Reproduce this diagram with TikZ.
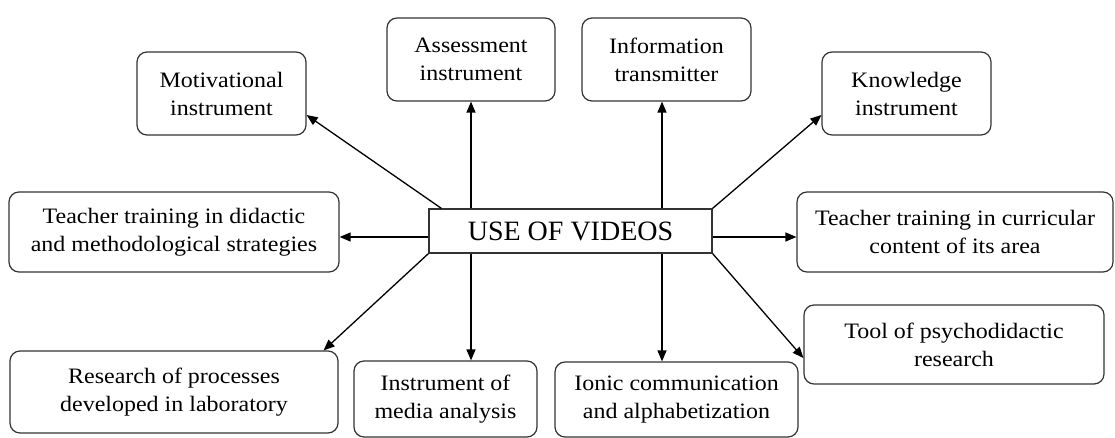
\documentclass[tikz,border=0pt]{standalone}
\usepackage{fontspec}
\setmainfont{Liberation Serif}
\newfontfamily\boxfont[FakeStretch=1.09]{Liberation Serif}
\usetikzlibrary{arrows.meta}
\begin{document}
\begin{tikzpicture}[x=1pt,y=-1pt,
  box/.style={draw=black!80,line width=1.2pt,rounded corners=10pt,align=center,inner sep=0pt,
    font=\boxfont\fontsize{22}{28}\selectfont},
  hub/.style={draw=black!80,line width=1.2pt,inner sep=0pt,font=\fontsize{28}{32}\selectfont},
  arr/.style={line width=1.3pt,-{Triangle[length=11pt,width=9pt]}}]
\useasboundingbox (0,0) rectangle (1115,438);
\node[hub,minimum width=283pt,minimum height=44pt] (c) at (570.5,231) {USE OF VIDEOS};
\node[box,minimum width=169pt,minimum height=83pt] (mot) at (221.5,93.5) {Motivational\\instrument};
\node[box,minimum width=168pt,minimum height=83pt] (ass) at (471,59.5) {Assessment\\instrument};
\node[box,minimum width=169pt,minimum height=83pt] (inf) at (666.5,59.5) {Information\\transmitter};
\node[box,minimum width=169pt,minimum height=83pt] (kno) at (906.5,93.5) {Knowledge\\instrument};
\node[box,minimum width=330pt,minimum height=80pt] (did) at (174,232) {Teacher training in didactic\\and methodological strategies};
\node[box,minimum width=316pt,minimum height=80pt] (cur) at (955,232) {Teacher training in curricular\\content of its area};
\node[box,minimum width=300pt,minimum height=79pt] (tool) at (954,344.5) {Tool of psychodidactic\\research};
\node[box,minimum width=328pt,minimum height=82pt] (res) at (174,392) {Research of processes\\developed in laboratory};
\node[box,minimum width=183pt,minimum height=76pt] (med) at (445.5,399) {Instrument of\\media analysis};
\node[box,minimum width=243pt,minimum height=75pt] (ion) at (676.5,399.5) {Ionic communication\\and alphabetization};
% connectors
\draw[arr] ([xshift=13pt]c.north west) -- ([yshift=-21.5pt]mot.east);
\draw[arr] (ass.south |- c.north) -- (ass.south);
\draw[arr] ([xshift=-4.5pt]inf.south |- c.north) -- ([xshift=-4.5pt]inf.south);
\draw[arr] (c.north east) -- ([yshift=-21.5pt]kno.west);
\draw[arr] ([yshift=-6pt]c.west) -- ([yshift=-6pt]c.west -| did.east);
\draw[arr] ([yshift=-6pt]c.east) -- ([yshift=-6pt]c.east -| cur.west);
\draw[arr] (c.south west) -- ([xshift=-15pt]res.north east);
\draw[arr] ([xshift=-99.5pt]c.south) -- ([xshift=-99.5pt]c.south |- med.north);
\draw[arr] ([xshift=91.5pt]c.south) -- ([xshift=91.5pt]c.south |- ion.north);
\draw[arr] (c.south east) -- ([yshift=-13.5pt]tool.west);
\end{tikzpicture}
\end{document}
